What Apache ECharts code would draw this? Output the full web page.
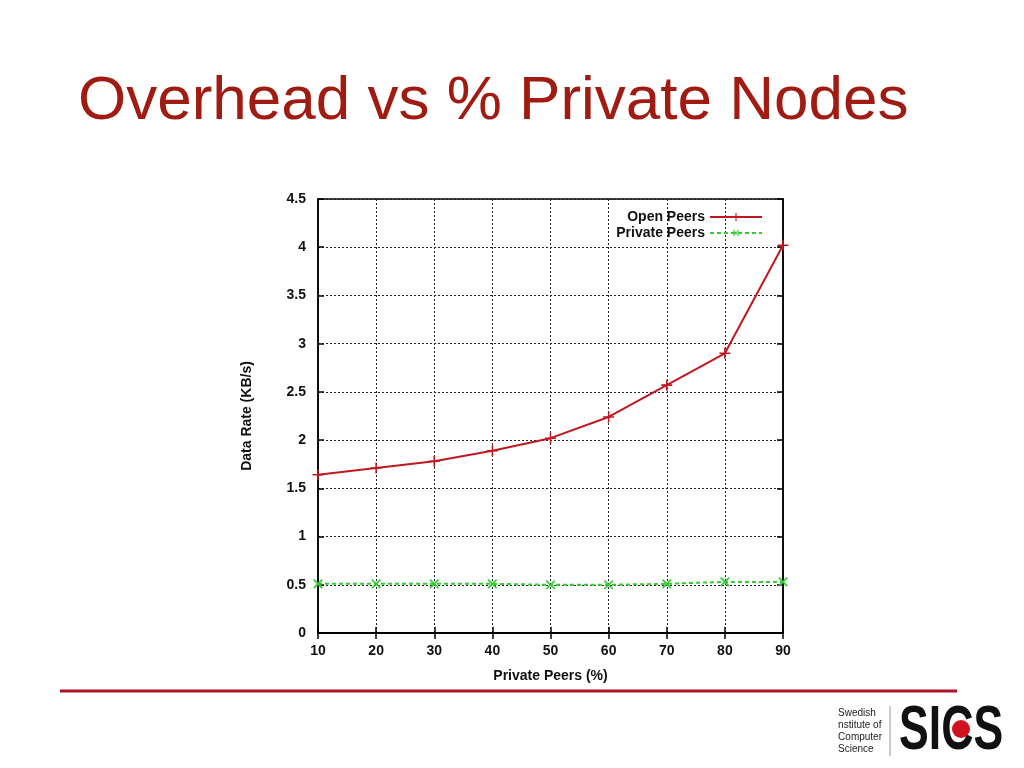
<!DOCTYPE html>
<html><head><meta charset="utf-8">
<script src="https://cdn.jsdelivr.net/npm/echarts@6/dist/echarts.min.js"></script>
<style>html,body{margin:0;padding:0;background:#fff}#c{width:1024px;height:768px}</style>
</head><body><div id="c"></div>
<script>
const privatePct = [10, 20, 30, 40, 50, 60, 70, 80, 90];
const openPeers = [1.64, 1.71, 1.78, 1.89, 2.02, 2.24, 2.57, 2.90, 4.02];
const privatePeers = [0.51, 0.51, 0.51, 0.51, 0.50, 0.50, 0.51, 0.53, 0.53];

const plus = 'path://M0,4.3L10,4.3L10,5.7L0,5.7Z M4.3,0L5.7,0L5.7,10L4.3,10Z';
const font = 'Liberation Sans, Arial, sans-serif';
const chart = echarts.init(document.getElementById('c'));
const axisLbl = {color:'#111', fontSize:14, fontWeight:'bold', fontFamily:font};
chart.setOption({
  animation:false,
  grid:{left:318, top:199, width:465, height:434, show:true, borderColor:'#000', borderWidth:1.5},
  legend:{
    orient:'vertical', right:256, top:205, align:'right', itemGap:2, itemWidth:52, itemHeight:10,
    textStyle:{fontSize:14, fontWeight:'bold', color:'#111', fontFamily:font, padding:[0,0,0,0]},
    data:['Open Peers','Private Peers']
  },
  xAxis:[{
    type:'value', min:10, max:90, interval:10,
    name:'Private Peers (%)', nameLocation:'middle', nameGap:36,
    nameTextStyle:axisLbl,
    axisLabel:Object.assign({margin:11}, axisLbl),
    axisLine:{lineStyle:{color:'#000', width:1.5}},
    axisTick:{inside:true, length:6, lineStyle:{color:'#000', width:1.5}},
    splitLine:{show:true, lineStyle:{color:'#222', type:[2,2], width:1}}
  },{
    type:'value', min:10, max:90, interval:10, position:'top',
    axisLabel:{show:false}, axisLine:{lineStyle:{color:'#000', width:1.5}},
    axisTick:{inside:true, length:6, lineStyle:{color:'#000', width:1.5}}, splitLine:{show:false}
  }],
  yAxis:[{
    type:'value', min:0, max:4.5, interval:0.5,
    name:'Data Rate (KB/s)', nameLocation:'middle', nameGap:64,
    nameTextStyle:axisLbl,
    axisLabel:Object.assign({margin:12}, axisLbl),
    axisLine:{show:true, lineStyle:{color:'#000', width:1.5}},
    axisTick:{show:true, inside:true, length:6, lineStyle:{color:'#000', width:1.5}},
    splitLine:{show:true, lineStyle:{color:'#222', type:[2,2], width:1}}
  },{
    type:'value', min:0, max:4.5, interval:0.5, position:'right',
    axisLabel:{show:false}, axisLine:{show:true, lineStyle:{color:'#000', width:1.5}},
    axisTick:{show:true, inside:true, length:6, lineStyle:{color:'#000', width:1.5}}, splitLine:{show:false}
  }],
  series:[{
    name:'Open Peers', type:'line',
    data:privatePct.map((x,i)=>[x, openPeers[i]]),
    symbol:plus, symbolSize:11,
    lineStyle:{color:'#c01820', width:2},
    itemStyle:{color:'#c01820'}
  },{
    name:'Private Peers', type:'line',
    data:privatePct.map((x,i)=>[x, privatePeers[i]]),
    symbol:plus, symbolRotate:45, symbolSize:12,
    lineStyle:{color:'#33cc33', width:2, type:[4,3]},
    itemStyle:{color:'#33cc33'}
  }],
  graphic:[
    {type:'text', left:78, top:71, style:{text:'Overhead vs % Private Nodes', fill:'#a01c12', font:'62px '+font}},
    {type:'line', shape:{x1:60, y1:691, x2:957, y2:691}, style:{stroke:'#b0102a', lineWidth:3}},
    {type:'text', right:1024-882, top:707, style:{text:'Swedish\nnstitute of\nComputer\nScience', fill:'#222', font:'10px '+font, lineHeight:12, align:'right'}},
    {type:'line', shape:{x1:890, y1:706, x2:890, y2:756}, style:{stroke:'#999', lineWidth:1}},
    {type:'text', x:899, y:701, scaleX:0.93, scaleY:1.3, style:{text:'SICS', fill:'#111', font:'bold 48px '+font}},
    {type:'circle', shape:{cx:961, cy:729, r:9}, style:{fill:'#d0121e'}}
  ]
});
</script></body></html>
